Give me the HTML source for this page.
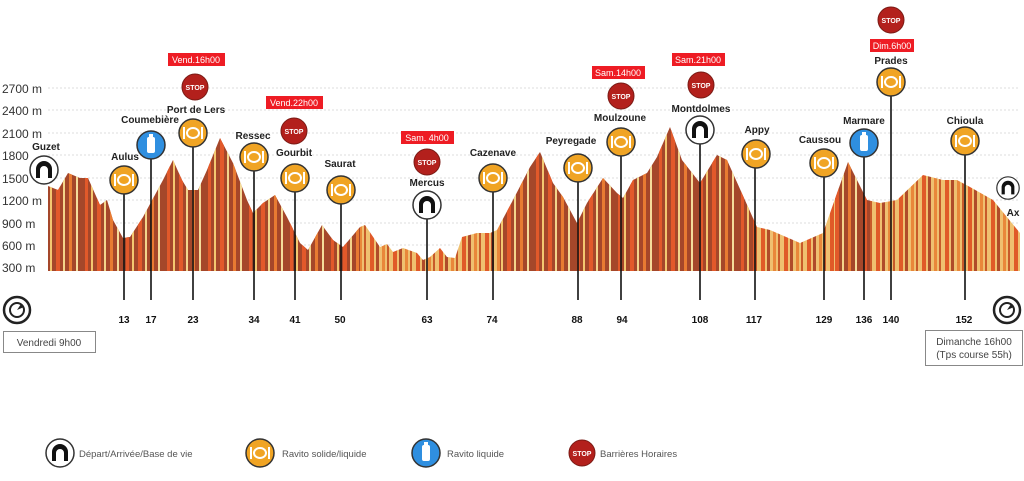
<!DOCTYPE html>
<html><head><meta charset="utf-8"><style>
html,body{margin:0;padding:0;background:#fff;}
svg{display:block;font-family:"Liberation Sans",sans-serif;}
.n{font-size:10px;font-weight:bold;fill:#222;text-anchor:middle;}
.k{font-size:10px;font-weight:bold;fill:#111;text-anchor:middle;}
.ax{font-size:12px;fill:#333;}
.lg{font-size:9.5px;fill:#555;}
.bt{font-size:9px;fill:#fff;text-anchor:middle;}
</style></head><body>
<svg width="1024" height="481" viewBox="0 0 1024 481">
<defs>
<pattern id="st" x="0" y="0" width="41" height="300" patternUnits="userSpaceOnUse">
<rect x="3" y="0" width="3" height="300" fill="#e2592a"/>
<rect x="9" y="0" width="2" height="300" fill="#f3c870"/>
<rect x="15" y="0" width="4" height="300" fill="#e2592a"/>
<rect x="22" y="0" width="2" height="300" fill="#f3d48a"/>
<rect x="28" y="0" width="3" height="300" fill="#e87b32"/>
<rect x="35" y="0" width="2" height="300" fill="#f5dc9a"/>
</pattern>
<pattern id="st2" x="0" y="0" width="23" height="300" patternUnits="userSpaceOnUse">
<rect x="0" y="0" width="23" height="300" fill="#efc070"/>
<rect x="2" y="0" width="4" height="300" fill="#e05a28"/>
<rect x="8" y="0" width="3" height="300" fill="#b04b2a"/>
<rect x="14" y="0" width="3" height="300" fill="#e9873a"/>
<rect x="19" y="0" width="2" height="300" fill="#c85a2a"/>
</pattern>
<clipPath id="pc"><polygon points="48,271 48,186 58,190 68,173 80,178 88,178 100,205 107,200 113,220 123,238 130,237 143,217 163,180 173,160 182,180 188,190 198,190 207,170 220,138 233,163 247,200 253,213 263,203 275,195 287,217 300,243 308,250 322,225 333,240 343,247 360,227 365,225 380,247 387,244 393,252 403,248 417,253 423,260 430,257 440,248 447,257 455,258 462,237 477,233 490,233 497,230 513,200 530,167 540,152 553,183 563,197 577,223 587,203 603,178 617,193 623,198 633,180 647,173 657,157 670,127 682,160 700,183 717,155 727,160 757,227 770,230 800,243 823,233 848,162 867,200 880,203 897,200 923,175 943,180 957,180 970,187 993,200 1020,233 1020,271"/></clipPath>
<g id="rv"><circle r="14" fill="#f0a424" stroke="#333" stroke-width="1.5"/><ellipse rx="6" ry="5" fill="none" stroke="#fff" stroke-width="2"/><rect x="-10" y="-6" width="2" height="12" fill="#fff"/><rect x="8" y="-6" width="2" height="12" fill="#fff"/></g>
<g id="bv"><circle r="14" fill="#fff" stroke="#333" stroke-width="1.5"/><path d="M-8,8 V-1 A8,8 0 0 1 8,-1 V8 H4 V0 A4,4 0 0 0 -4,0 V8 Z" fill="#111"/></g>
<g id="bl"><circle r="14" fill="#2f8fe0" stroke="#333" stroke-width="1.5"/><rect x="-4" y="-8" width="8" height="16" rx="2" fill="#fff"/><rect x="-2" y="-11" width="4" height="3" fill="#fff"/></g>
<g id="sp"><circle r="13" fill="#b3201c" stroke="#7a1a14" stroke-width="1"/><text y="3" class="bt" style="font-size:7px;font-weight:bold">STOP</text></g>
<g id="sw"><circle r="13" fill="none" stroke="#222" stroke-width="2.5"/><circle r="7" fill="none" stroke="#222" stroke-width="2"/><path d="M0,0 L4,-6 L7,-3 Z" fill="#222"/></g>
</defs>
<g stroke="#ddd" stroke-width="1" stroke-dasharray="2,2">
<line x1="48" x2="1020" y1="88" y2="88"/><line x1="48" x2="1020" y1="110" y2="110"/><line x1="48" x2="1020" y1="133" y2="133"/><line x1="48" x2="1020" y1="155" y2="155"/><line x1="48" x2="1020" y1="178" y2="178"/><line x1="48" x2="1020" y1="200" y2="200"/><line x1="48" x2="1020" y1="223" y2="223"/><line x1="48" x2="1020" y1="245" y2="245"/>
</g>
<g class="ax">
<text x="2" y="93">2700 m</text><text x="2" y="115">2400 m</text><text x="2" y="138">2100 m</text><text x="2" y="160">1800</text><text x="2" y="183">1500</text><text x="2" y="205">1200 m</text><text x="2" y="228">900 m</text><text x="2" y="250">600 m</text><text x="2" y="272">300 m</text>
</g>
<g clip-path="url(#pc)">
<rect x="48" y="120" width="312" height="152" fill="#a5472a"/>
<rect x="48" y="120" width="312" height="152" fill="url(#st)"/>
<rect x="360" y="120" width="140" height="152" fill="url(#st2)"/>
<rect x="500" y="120" width="255" height="152" fill="#a5472a"/>
<rect x="500" y="120" width="255" height="152" fill="url(#st)"/>
<rect x="755" y="120" width="80" height="152" fill="url(#st2)"/>
<rect x="835" y="120" width="35" height="152" fill="#a5472a"/>
<rect x="835" y="120" width="35" height="152" fill="url(#st)"/>
<rect x="870" y="120" width="150" height="152" fill="url(#st2)"/>
</g>
<g stroke="#111" stroke-width="1.6">
<line x1="124" y1="180" x2="124" y2="300"/><line x1="151" y1="145" x2="151" y2="300"/><line x1="193" y1="133" x2="193" y2="300"/><line x1="254" y1="157" x2="254" y2="300"/><line x1="295" y1="178" x2="295" y2="300"/><line x1="341" y1="188" x2="341" y2="300"/><line x1="427" y1="205" x2="427" y2="300"/><line x1="493" y1="178" x2="493" y2="300"/><line x1="578" y1="168" x2="578" y2="300"/><line x1="621" y1="142" x2="621" y2="300"/><line x1="700" y1="130" x2="700" y2="300"/><line x1="755" y1="154" x2="755" y2="300"/><line x1="824" y1="163" x2="824" y2="300"/><line x1="864" y1="143" x2="864" y2="300"/><line x1="891" y1="82" x2="891" y2="300"/><line x1="965" y1="141" x2="965" y2="300"/>
</g>
<use href="#bv" x="44" y="170"/><text class="n" x="46" y="150">Guzet</text>
<use href="#rv" x="124" y="180"/><text class="n" x="125" y="160">Aulus</text>
<use href="#bl" x="151" y="145"/><text class="n" x="150" y="123">Coumebière</text>
<use href="#rv" x="193" y="133"/><text class="n" x="196" y="113">Port de Lers</text>
<use href="#sp" x="195" y="87"/><rect x="168" y="53" width="57" height="13" fill="#ee1c24"/><text class="bt" x="196" y="63">Vend.16h00</text>
<use href="#rv" x="254" y="157"/><text class="n" x="253" y="139">Ressec</text>
<use href="#rv" x="295" y="178"/><text class="n" x="294" y="156">Gourbit</text>
<use href="#sp" x="294" y="131"/><rect x="266" y="96" width="57" height="13" fill="#ee1c24"/><text class="bt" x="294" y="106">Vend.22h00</text>
<use href="#rv" x="341" y="190"/><text class="n" x="340" y="167">Saurat</text>
<use href="#bv" x="427" y="205"/><text class="n" x="427" y="186">Mercus</text>
<use href="#sp" x="427" y="162"/><rect x="401" y="131" width="53" height="13" fill="#ee1c24"/><text class="bt" x="427" y="141">Sam. 4h00</text>
<use href="#rv" x="493" y="178"/><text class="n" x="493" y="156">Cazenave</text>
<use href="#rv" x="578" y="168"/><text class="n" x="571" y="144">Peyregade</text>
<use href="#rv" x="621" y="142"/><text class="n" x="620" y="121">Moulzoune</text>
<use href="#sp" x="621" y="96"/><rect x="592" y="66" width="53" height="13" fill="#ee1c24"/><text class="bt" x="618" y="76">Sam.14h00</text>
<use href="#bv" x="700" y="130"/><text class="n" x="701" y="112">Montdolmes</text>
<use href="#sp" x="701" y="85"/><rect x="672" y="53" width="53" height="13" fill="#ee1c24"/><text class="bt" x="698" y="63">Sam.21h00</text>
<use href="#rv" x="756" y="154"/><text class="n" x="757" y="133">Appy</text>
<use href="#rv" x="824" y="163"/><text class="n" x="820" y="143">Caussou</text>
<use href="#bl" x="864" y="143"/><text class="n" x="864" y="124">Marmare</text>
<use href="#rv" x="891" y="82"/><text class="n" x="891" y="64">Prades</text>
<use href="#sp" x="891" y="20"/><rect x="870" y="39" width="44" height="13" fill="#ee1c24"/><text class="bt" x="892" y="49">Dim.6h00</text>
<use href="#rv" x="965" y="141"/><text class="n" x="965" y="124">Chioula</text>
<g transform="translate(1008,188) scale(0.8)"><use href="#bv"/></g><text class="n" x="1013" y="216">Ax</text>
<g class="k">
<text x="124" y="323">13</text><text x="151" y="323">17</text><text x="193" y="323">23</text><text x="254" y="323">34</text><text x="295" y="323">41</text><text x="340" y="323">50</text><text x="427" y="323">63</text><text x="492" y="323">74</text><text x="577" y="323">88</text><text x="622" y="323">94</text><text x="700" y="323">108</text><text x="754" y="323">117</text><text x="824" y="323">129</text><text x="864" y="323">136</text><text x="891" y="323">140</text><text x="964" y="323">152</text>
</g>
<use href="#sw" x="17" y="310"/>
<rect x="3.5" y="331.5" width="92" height="21" fill="#fff" stroke="#888"/>
<text x="49" y="346" text-anchor="middle" style="font-size:10px;fill:#444">Vendredi 9h00</text>
<use href="#sw" x="1007" y="310"/>
<rect x="925.5" y="330.5" width="97" height="35" fill="#fff" stroke="#888"/>
<text x="974" y="345" text-anchor="middle" style="font-size:10px;fill:#444">Dimanche 16h00</text>
<text x="974" y="358" text-anchor="middle" style="font-size:10px;fill:#444">(Tps course 55h)</text>
<use href="#bv" x="60" y="453"/><text class="lg" x="79" y="457">Départ/Arrivée/Base de vie</text>
<use href="#rv" x="260" y="453"/><text class="lg" x="282" y="457">Ravito solide/liquide</text>
<use href="#bl" x="426" y="453"/><text class="lg" x="447" y="457">Ravito liquide</text>
<use href="#sp" x="582" y="453"/><text class="lg" x="600" y="457">Barrières Horaires</text>
</svg>
</body></html>
